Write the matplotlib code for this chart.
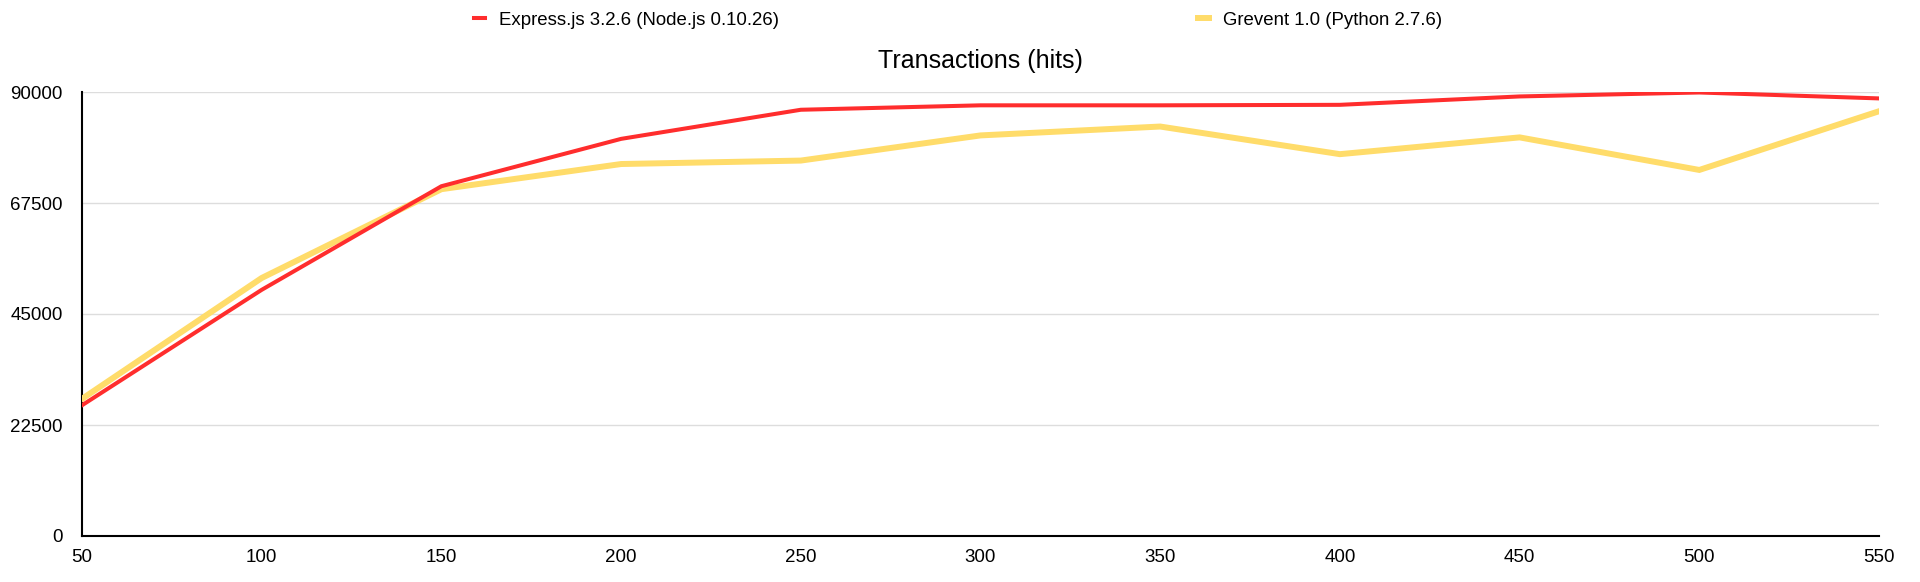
import matplotlib
matplotlib.use("Agg")
import matplotlib.pyplot as plt

plt.rcParams['font.family'] = ['Liberation Sans', 'DejaVu Sans']

# concurrency levels
clients = [50, 100, 150, 200, 250, 300, 350, 400, 450, 500, 550]

# transactions (hits)
express = [26500, 49900, 70900, 80500, 86400, 87300, 87300, 87400, 89100, 89900, 88700]
gevent = [27800, 52300, 70300, 75400, 76100, 81200, 83000, 77400, 80800, 74200, 86100]

yticks = [0, 22500, 45000, 67500, 90000]

labels = ['Express.js 3.2.6 (Node.js 0.10.26)', 'Grevent 1.0 (Python 2.7.6)']
colors = ['#ff2d2d', '#ffdc6a']

fig = plt.figure(figsize=(19.2, 5.82), dpi=100)
ax = fig.add_axes([82 / 1920, 46 / 582, (1879 - 82) / 1920, (536 - 92) / 582])

l1, = ax.plot(clients, express, color=colors[0], lw=2.9, zorder=4, solid_joinstyle='miter')
l2, = ax.plot(clients, gevent, color=colors[1], lw=4.3, zorder=3, solid_joinstyle='miter')

ax.set_xlim(50, 550)
ax.set_ylim(0, 90000)
ax.set_xticks(clients)
ax.set_yticks(yticks)
ax.yaxis.grid(True, color='#dddddd', lw=1)
ax.set_axisbelow(True)

for s in ['top', 'right']:
    ax.spines[s].set_visible(False)
for s in ['left', 'bottom']:
    ax.spines[s].set_color('black')
    ax.spines[s].set_linewidth(1.5)

ax.tick_params(axis='both', length=0, labelsize=13.5)
ax.tick_params(axis='y', pad=14)
ax.tick_params(axis='x', pad=9)

ax.set_title('Transactions (hits)', fontsize=18, pad=17)

fig.legend([l1, l2], labels, loc='center left', bbox_to_anchor=(474 / 1920, 1 - 20 / 582),
           ncol=2, frameon=False, fontsize=13.4, handlelength=0.6, handletextpad=0.75,
           columnspacing=22.5, borderaxespad=0, borderpad=0)

fig.savefig('out.png', dpi=100)
